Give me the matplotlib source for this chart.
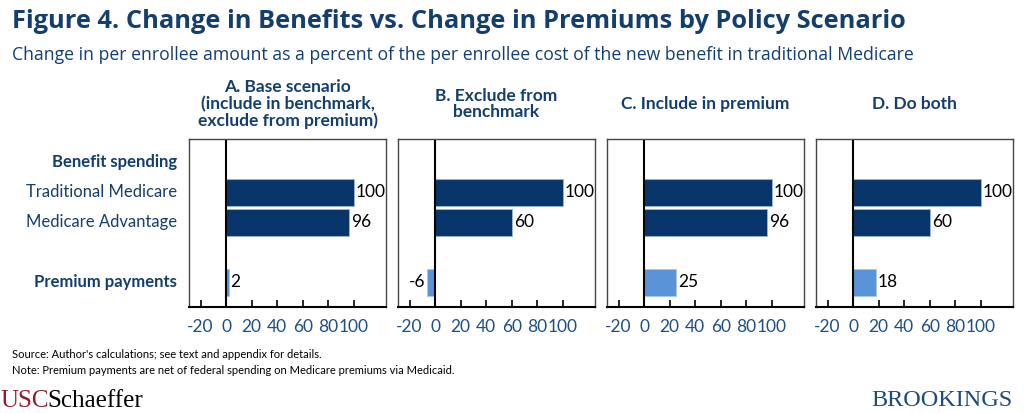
import matplotlib
matplotlib.use("Agg")
import matplotlib.pyplot as plt

plt.rcParams['font.family'] = ['Lato', 'DejaVu Sans']

# data
panel_titles = ["A. Base scenario\n(include in benchmark,\nexclude from premium)",
                "B. Exclude from\nbenchmark",
                "C. Include in premium",
                "D. Do both"]
traditional = [100, 100, 100, 100]
advantage = [96, 60, 96, 60]
premium = [2, -6, 25, 18]
row_labels = ["Benefit spending", "Traditional Medicare", "Medicare Advantage", "", "Premium payments"]
tick_vals = [-20, 0, 20, 40, 60, 80, 100]

NAVY = "#08366a"
LIGHT = "#5b93d8"
TEXT = "#133e6e"
TICKC = "#1d4f86"

fig = plt.figure(figsize=(10.24, 4.13), dpi=100)

fig.text(12/1024, 1 - 22/413, "Figure 4. Change in Benefits vs. Change in Premiums by Policy Scenario",
         fontsize=18.3, fontweight='bold', color=TEXT, va='center', ha='left', family='Open Sans')
fig.text(12/1024, 1 - 55/413,
         "Change in per enrollee amount as a percent of the per enrollee cost of the new benefit in traditional Medicare",
         fontsize=12.7, color=TEXT, va='center', ha='left', family='Open Sans')

lefts = [189, 398, 607, 816]
for i in range(4):
    ax = fig.add_axes([lefts[i]/1024, 106/413, 197/1024, 168/413])
    ax.barh(1, traditional[i], height=0.9, color=NAVY, edgecolor="#9fb6d3", linewidth=0.6)
    ax.barh(2, advantage[i], height=0.9, color=NAVY, edgecolor="#9fb6d3", linewidth=0.6)
    ax.barh(4, premium[i], height=0.9, color=LIGHT, edgecolor="#a9c6ea", linewidth=0.6)
    for y, v in [(1, traditional[i]), (2, advantage[i]), (4, premium[i])]:
        if v >= 0:
            ax.text(v + 1.5, y, str(v), va='center', ha='left', fontsize=12.5, color='black')
        else:
            ax.text(v - 1.5, y, str(v), va='center', ha='right', fontsize=12.5, color='black')
    ax.axvline(0, color='black', linewidth=1.5)
    ax.set_xlim(-29, 125)
    ax.set_ylim(4.82, -0.78)
    ax.set_yticks([])
    ax.set_xticks(tick_vals)
    ax.set_xticklabels([str(t) for t in tick_vals], fontsize=12.5, color=TICKC)
    ax.tick_params(axis='x', direction='in', length=5, width=1.2, color='black', pad=9)
    for s in ['top', 'right', 'left']:
        ax.spines[s].set_color('#444444')
        ax.spines[s].set_linewidth(1.0)
    ax.spines['bottom'].set_color('black')
    ax.spines['bottom'].set_linewidth(1.5)
    cx = (lefts[i] + 197/2) / 1024
    fig.text(cx, 1 - 104/413, panel_titles[i], ha='center', va='center', fontsize=12.5,
             fontweight='bold', color=TEXT, linespacing=1.05)
    if i == 0:
        for k, lab in enumerate(row_labels):
            if not lab:
                continue
            bold = k in (0, 4)
            ax.text(-0.06, k, lab, transform=ax.get_yaxis_transform(), ha='right', va='center',
                    fontsize=12, color=TEXT, fontweight='bold' if bold else 'normal')

fig.text(12/1024, 1 - 355/413, "Source: Author's calculations; see text and appendix for details.",
         fontsize=8, color='black', va='center', ha='left')
fig.text(12/1024, 1 - 371/413, "Note: Premium payments are net of federal spending on Medicare premiums via Medicaid.",
         fontsize=8, color='black', va='center', ha='left')

fig.text(0/1024, 1 - 401/413, "USC", fontsize=18, color='#8f1d2c', family='Liberation Serif',
         va='center', ha='left')
fig.text(47/1024, 1 - 401/413, "Schaeffer", fontsize=18, color='black', family='Liberation Serif',
         va='center', ha='left')
fig.text(1013/1024, 1 - 401/413, "BROOKINGS", fontsize=17.5, color='#1f4a7c', family='Liberation Serif',
         va='center', ha='right')

fig.savefig("out.png", dpi=100)
